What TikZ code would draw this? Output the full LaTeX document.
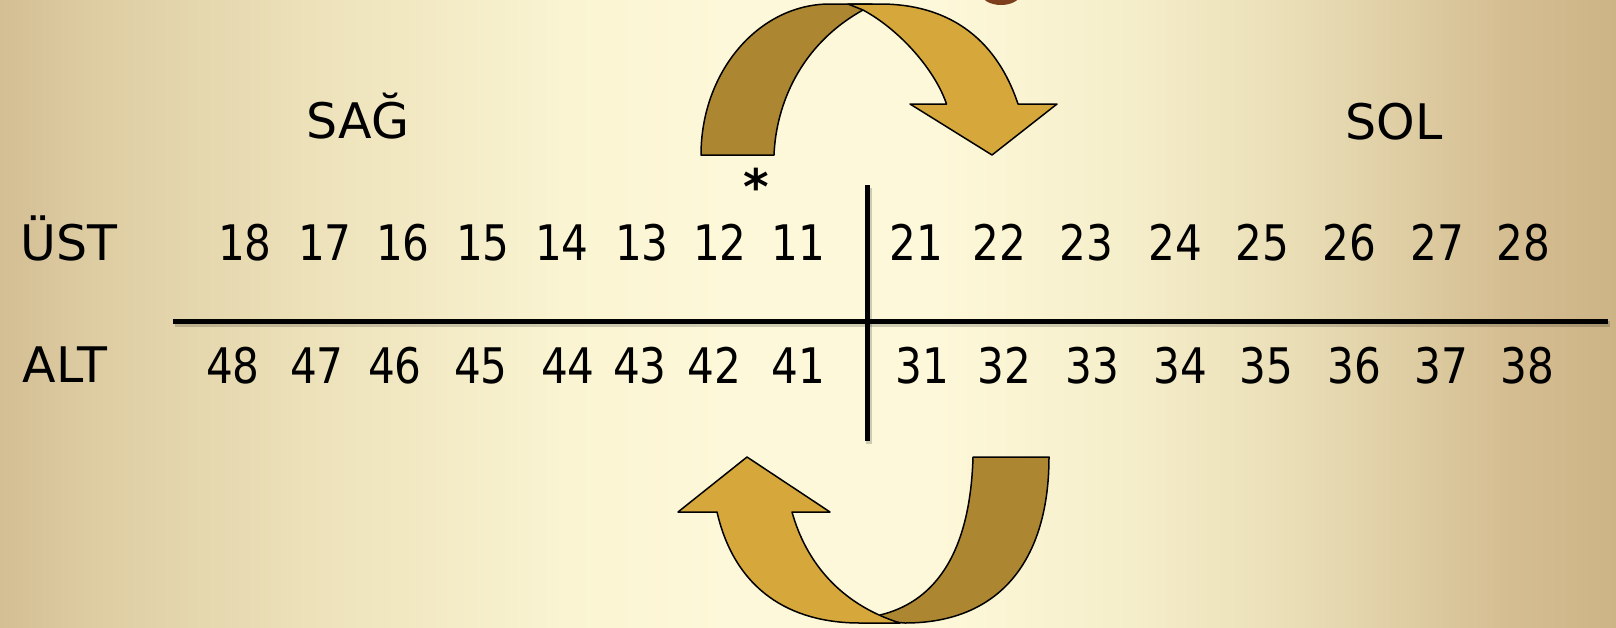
\documentclass[tikz,border=0pt]{standalone}
\usepackage{fontspec}
\setmainfont{DejaVu Sans}
\newfontfamily\numfont[FakeStretch=0.86]{DejaVu Sans}
\definecolor{bgL0}{RGB}{212,190,148}
\definecolor{bgL1}{RGB}{222,205,163}
\definecolor{bgL2}{RGB}{236,225,185}
\definecolor{bgL3}{RGB}{250,244,210}
\definecolor{bgcream}{RGB}{253,248,217}
\definecolor{bgR3}{RGB}{245,238,202}
\definecolor{bgR2}{RGB}{232,220,180}
\definecolor{bgR1}{RGB}{213,190,146}
\definecolor{bgR0}{RGB}{205,180,135}
\definecolor{bandDark}{RGB}{173,134,49}
\definecolor{bandLight}{RGB}{214,168,60}
\definecolor{bean}{RGB}{125,62,30}
\pgfdeclarehorizontalshading{bgshade}{100bp}{color(0bp)=(bgL0); color(25bp)=(bgL0); color(28bp)=(bgL1); color(34.5bp)=(bgL2); color(42.5bp)=(bgL3); color(47.5bp)=(bgcream); color(54bp)=(bgcream); color(60bp)=(bgR3); color(65.5bp)=(bgR2); color(71.5bp)=(bgR1); color(75bp)=(bgR0); color(100bp)=(bgR0)}
\tikzset{
  num/.style={font=\numfont\fontsize{49}{58}\selectfont, inner sep=0pt, anchor=base},
  lab/.style={font=\fontsize{49}{58}\selectfont, inner sep=0pt, anchor=base},
  band/.style={draw=black, line width=1.5pt, line join=round},
  darkband/.style={band, fill=bandDark},
  lightband/.style={band, fill=bandLight},
  axisline/.style={line width=5pt, black},
  axisshadow/.style={line width=6pt, black, opacity=0.18},
}
\begin{document}
\begin{tikzpicture}[x=1pt,y=1pt]
\useasboundingbox (0,0) rectangle (1616,-627);
\shade[shading=bgshade] (0,0) rectangle (1616,-627);
% partial bean at top edge
\fill[bean] (1001,7) ellipse [x radius=20, y radius=12];

% labels
\node[lab] (sag) at (358,-138) {SAĞ};
\node[lab] (sol) at (1394,-139) {SOL};
\node[lab] (ust) at (69,-260) {ÜST};
\node[lab] (alt) at (65,-382) {ALT};
\node[lab, font=\bfseries\fontsize{49}{58}\selectfont] (star) at (756,-204) {*};

% tooth numbers
\foreach \n/\x in {18/245,17/325,16/403,15/483,14/562,13/642,12/720,11/798,21/916,22/999,23/1086,24/1175,25/1262,26/1349,27/1437,28/1523}
  \node[num] (n\n) at (\x,-260) {\n};
\foreach \n/\x in {48/233,47/317,46/395,45/481,44/568,43/640,42/714,41/798,31/922,32/1004,33/1092,34/1180,35/1266,36/1354,37/1441,38/1527}
  \node[num] (n\n) at (\x,-383) {\n};

% axes
\coordinate (hL) at (173,-321);
\coordinate (hR) at (1608,-321);
\coordinate (vT) at (867,-185);
\coordinate (vB) at (867,-441);
\draw[axisshadow] ([shift={(2,-3)}]hL) -- ([shift={(2,-3)}]hR);
\draw[axisshadow] ([shift={(2,-3)}]vT) -- ([shift={(2,-3)}]vB);
\draw[axisline] (hL) -- (hR);
\draw[axisline] (vT) -- (vB);

% top curved arrow
\draw[darkband] (701,-155) arc[start angle=180, end angle=90, x radius=129, y radius=151]
  -- (872,-4) -- (863,-10)
  .. controls (800,-45) and (776,-105) .. (774,-155) -- cycle;
\draw[lightband] (863,-10) .. controls (900,-30) and (935,-70) .. (946.5,-104)
  -- (910,-104) -- (992,-155) -- (1057,-104) -- (1018,-104)
  .. controls (995,-35) and (945,-4) .. (880,-4) -- (848,-4) -- cycle;

% bottom curved arrow
\draw[darkband] (880,-615) .. controls (930,-603) and (970,-560) .. (973,-457)
  -- (1049,-457) .. controls (1049,-560) and (1000,-623) .. (905,-623)
  -- (880,-621) -- cycle;
\draw[lightband] (792,-512) -- (830,-512) -- (747,-457) -- (678,-512) -- (717,-512)
  .. controls (735,-590) and (790,-623) .. (860,-623) -- (900,-623)
  .. controls (840,-604) and (806,-562) .. (792,-512) -- cycle;
\end{tikzpicture}
\end{document}
